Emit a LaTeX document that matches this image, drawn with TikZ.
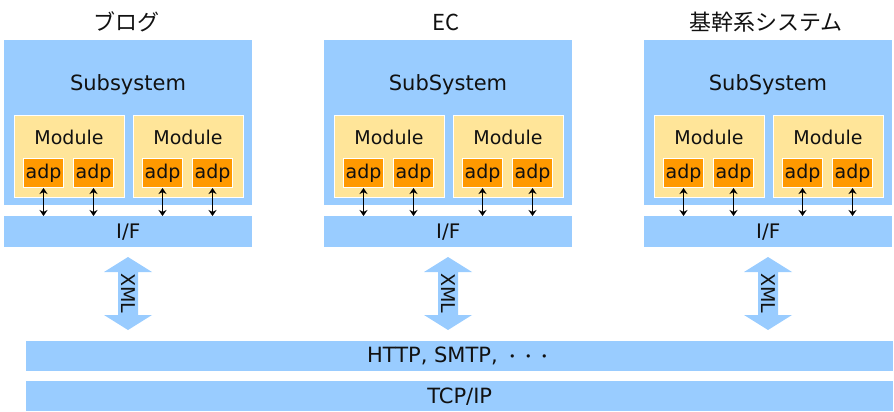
\documentclass[tikz,border=0pt]{standalone}
\usepackage{fontspec}
\usetikzlibrary{arrows.meta}
\newfontfamily\lat{DejaVu Sans}
\newfontfamily\cjk{Noto Sans CJK JP}
\definecolor{skyb}{HTML}{99CCFF}
\definecolor{mody}{HTML}{FFE599}
\definecolor{adpo}{HTML}{FF9900}
\definecolor{txt}{HTML}{111111}
\tikzset{
  blubox/.style={fill=skyb, draw=none, inner sep=0pt, anchor=north west},
  modbox/.style={fill=mody, draw=white, line width=1pt, inner sep=0pt, anchor=north west, minimum width=110pt, minimum height=82pt},
  adpbox/.style={fill=adpo, draw=white, line width=1pt, inner sep=0pt, anchor=north west, minimum width=40pt, minimum height=29pt, text=txt, font=\lat\fontsize{19}{19}\selectfont},
  lbl/.style={text=txt, inner sep=0pt},
  link/.style={line width=1.5pt, black, {Stealth[length=6pt,width=8pt]}-{Stealth[length=6pt,width=8pt]}},
  xmlarrow/.style={fill=skyb, draw=none}
}
\begin{document}
\begin{tikzpicture}[x=1pt,y=-1pt]
\useasboundingbox (0,0) rectangle (894,412);
\foreach \g/\ox/\ttl/\sub in {a/4/{\cjk ブログ}/Subsystem, b/324/{\cjk EC}/SubSystem, c/644/{\cjk 基幹系システム}/SubSystem}{
  % title
  \node[lbl, font=\fontsize{22}{22}\selectfont] (t\g) at (\ox+122,22) {\ttl};
  % subsystem
  \node[blubox, minimum width=248pt, minimum height=165pt] (s\g) at (\ox,40) {};
  \node[lbl, font=\lat\fontsize{21}{21}\selectfont] (sl\g) at (\ox+124,85) {\sub};
  % I/F
  \node[blubox, minimum width=248pt, minimum height=31pt] (if\g) at (\ox,216) {};
  \node[lbl, font=\lat\fontsize{20}{20}\selectfont] at (if\g.center) {I/F};
  % modules
  \foreach \m/\mx in {1/10, 2/129}{
    \node[modbox] (m\g\m) at (\ox+\mx,115) {};
    \node[lbl, font=\lat\fontsize{19}{19}\selectfont] at (\ox+\mx+55,137) {Module};
    \node[adpbox] (p\g\m1) at (\ox+\mx+9,158) {adp};
    \node[adpbox] (p\g\m2) at (\ox+\mx+59,158) {adp};
    \draw[link] (p\g\m1.south) -- (p\g\m1.south |- if\g.north);
    \draw[link] (p\g\m2.south) -- (p\g\m2.south |- if\g.north);
  }
  % XML arrow
  \coordinate (x\g) at (\ox+124,257);
  \fill[skyb] (x\g) -- ++(24,15) -- ++(-14,0) -- ++(0,43) -- ++(14,0) -- ++(-24,15)
     -- ++(-24,-15) -- ++(14,0) -- ++(0,-43) -- ++(-14,0) -- cycle;
  \node[lbl, rotate=-90, font=\lat\fontsize{19}{19}\selectfont] (xl\g) at (\ox+124,293.5) {XML};
}
\node[blubox, minimum width=867pt, minimum height=30pt] (http) at (26,341) {};
\node[lbl, font=\lat\fontsize{21}{21}\selectfont] at (http.center) {HTTP, SMTP, {\cjk\fontsize{16}{16}\selectfont ・・・}};
\node[blubox, minimum width=867pt, minimum height=30pt] (tcp) at (26,381) {};
\node[lbl, font=\lat\fontsize{21}{21}\selectfont] at (tcp.center) {TCP/IP};
\end{tikzpicture}
\end{document}
